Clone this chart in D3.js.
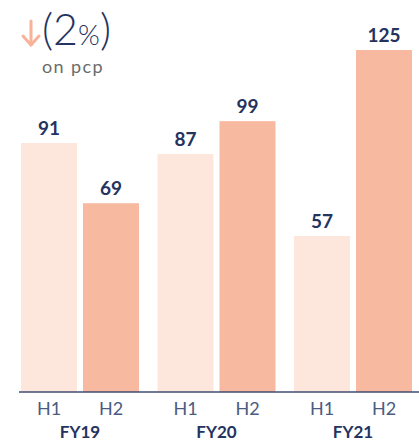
<!DOCTYPE html>
<html>
<head>
<meta charset="utf-8">
<script src="https://cdn.jsdelivr.net/npm/d3@7"></script>
<style>
    body { margin: 0; background: #fff; }
    svg { display: block; font-family: Lato, "Open Sans", sans-serif; }
</style>
</head>
<body>
<div id="chart"></div>
<script>
// data
var years = ['FY19', 'FY20', 'FY21'];
var halves = ['H1', 'H2'];
var h1Values = [91, 87, 57];
var h2Values = [69, 99, 125];

var width = 419, height = 441;
var baseY = 392;

var chartData = [];
years.forEach(function (y, i) {
    chartData.push({ year: y, half: 'H1', value: h1Values[i] });
    chartData.push({ year: y, half: 'H2', value: h2Values[i] });
});

var color = d3.scaleOrdinal().domain(halves).range(['#FDE6DB', '#F8B9A1']);

var x0 = d3.scaleBand().domain(years).range([21, 412]).paddingInner(0.1355);
var x1 = d3.scaleBand().domain(halves).range([0, x0.bandwidth()]).paddingInner(0.097);

var y = d3.scaleLinear()
    .domain([0, 125])
    .range([baseY, 50]);

var svg = d3.select('#chart').append('svg')
    .attr('width', width)
    .attr('height', height);

// bars
var bar = svg.selectAll('g.bar')
    .data(chartData)
    .enter().append('g')
    .attr('class', 'bar')
    .attr('transform', function (d) { return 'translate(' + (x0(d.year) + x1(d.half)) + ',0)'; });

bar.append('rect')
    .attr('y', function (d) { return y(d.value); })
    .attr('width', x1.bandwidth())
    .attr('height', function (d) { return baseY - y(d.value); })
    .attr('fill', function (d) { return color(d.half); });

bar.append('text')
    .attr('x', x1.bandwidth() / 2)
    .attr('y', function (d) { return y(d.value) - 8; })
    .attr('text-anchor', 'middle')
    .attr('fill', '#25335F')
    .style('font-size', '19px')
    .style('font-weight', 700)
    .text(function (d) { return d.value; });

// axis
var xAxis = d3.axisBottom(x1).tickSize(0).tickPadding(9);
years.forEach(function (yr) {
    var g = svg.append('g')
        .attr('class', 'x axis')
        .attr('transform', 'translate(' + x0(yr) + ',' + baseY + ')')
        .call(xAxis);
    g.select('.domain').remove();
    g.selectAll('text')
        .style('fill', '#4B5B82')
        .style('font-size', '18px')
        .style('font-weight', 400)
        .attr('dy', '0.8em')
        .style('font-family', 'Lato, sans-serif');
});

svg.append('line')
    .attr('x1', 19).attr('x2', width)
    .attr('y1', baseY).attr('y2', baseY)
    .attr('stroke', '#3F4D73')
    .attr('stroke-width', 1.5);

svg.selectAll('.year-label')
    .data(years)
    .enter().append('text')
    .attr('class', 'year-label')
    .attr('x', function (d) { return x0(d) + x0.bandwidth() / 2; })
    .attr('y', 438)
    .attr('text-anchor', 'middle')
    .attr('fill', '#25335F')
    .style('font-size', '17px')
    .style('font-weight', 700)
    .text(function (d) { return d; });

// header
var arrow = svg.append('g').attr('stroke', '#F8B29A').attr('stroke-width', 3)
    .attr('fill', 'none').attr('stroke-linecap', 'round').attr('stroke-linejoin', 'round');
arrow.append('line').attr('x1', 31).attr('x2', 31).attr('y1', 21).attr('y2', 45);
arrow.append('polyline').attr('points', '23,36 31,45 39,36');

var head = svg.append('text')
    .attr('x', 42)
    .attr('y', 45)
    .attr('fill', '#25335F')
    .style('font-weight', 300);
head.append('tspan').style('font-size', '43px').text('(2');
head.append('tspan').style('font-size', '28px').text('%');
head.append('tspan').style('font-size', '43px').text(')');

svg.append('text')
    .attr('x', 42)
    .attr('y', 73)
    .attr('fill', '#6B6B6B')
    .style('font-size', '18px')
    .style('font-weight', 400)
    .style('letter-spacing', '1.4px')
    .text('on pcp');
</script>
</body>
</html>
